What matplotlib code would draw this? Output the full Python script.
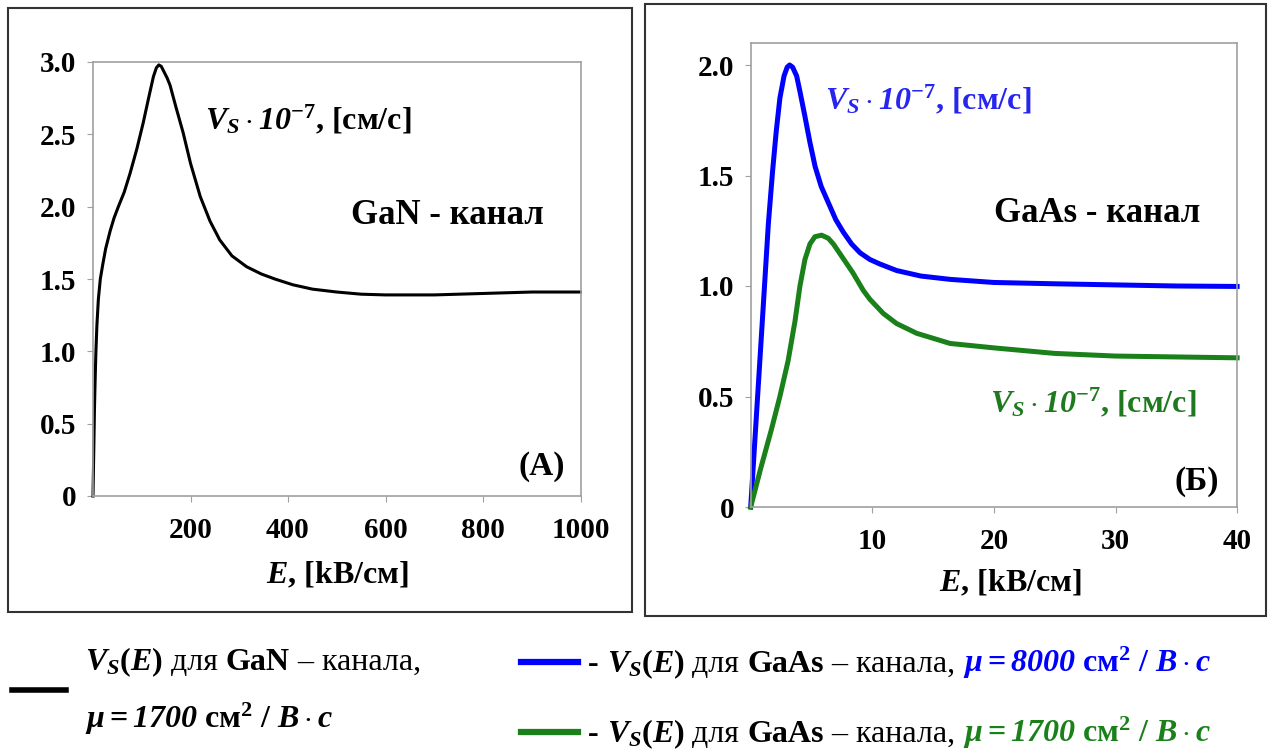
import matplotlib
matplotlib.use('Agg')
import matplotlib.pyplot as plt
from matplotlib.patches import Rectangle
from matplotlib.lines import Line2D

plt.rcParams['font.family'] = ['Liberation Serif', 'DejaVu Serif']
plt.rcParams['mathtext.fontset'] = 'custom'
plt.rcParams['mathtext.rm'] = 'Liberation Serif:bold'
plt.rcParams['mathtext.it'] = 'Liberation Serif:italic:bold'
plt.rcParams['mathtext.bf'] = 'Liberation Serif:bold'
plt.rcParams['mathtext.sf'] = 'Liberation Serif:italic:bold'

# ---------------- data ----------------
gan_E = [0, 1, 2, 3, 4, 5, 6, 8, 11, 15, 20, 26, 35, 43, 52, 64, 76, 90, 103, 114, 124, 130,
         135, 140, 146, 152, 158, 170, 185, 200, 220, 240, 260, 285, 315, 345, 373, 410, 450,
         500, 550, 600, 700, 800, 900, 1000]
gan_V = [0, 0.20, 0.40, 0.60, 0.75, 0.88, 1.00, 1.18, 1.36, 1.50, 1.60, 1.71, 1.83, 1.92, 2.00,
         2.10, 2.23, 2.40, 2.58, 2.75, 2.90, 2.96, 2.98, 2.97, 2.93, 2.89, 2.84, 2.69, 2.51, 2.30,
         2.07, 1.90, 1.77, 1.66, 1.585, 1.535, 1.50, 1.46, 1.43, 1.41, 1.395, 1.39, 1.39, 1.40,
         1.41, 1.41]

gaas8000_E = [0, 0.5, 1.0, 1.45, 1.8, 2.1, 2.4, 2.74, 3.0, 3.2, 3.45, 3.78, 4.05, 4.45, 4.87,
              5.3, 5.8, 6.36, 7.0, 7.6, 8.3, 9.0, 9.8, 10.6, 12.0, 14.0, 16.4, 20, 25, 30, 35, 40]
gaas8000_V = [0, 0.44, 0.88, 1.28, 1.52, 1.70, 1.85, 1.95, 1.99, 2.00, 1.99, 1.95, 1.88, 1.77,
              1.65, 1.54, 1.45, 1.38, 1.30, 1.245, 1.19, 1.15, 1.12, 1.10, 1.07, 1.045, 1.03,
              1.016, 1.01, 1.005, 1.0, 0.998]

gaas1700_E = [0, 0.8, 1.7, 2.4, 3.07, 3.64, 4.05, 4.46, 4.87, 5.28, 5.83, 6.38, 6.8, 7.6, 8.4,
              9.26, 9.8, 10.9, 12.0, 13.65, 16.4, 20, 25, 30, 35, 40]
gaas1700_V = [0, 0.17, 0.35, 0.50, 0.66, 0.84, 1.00, 1.12, 1.19, 1.223, 1.23, 1.216, 1.19,
              1.125, 1.06, 0.98, 0.94, 0.876, 0.83, 0.786, 0.74, 0.72, 0.695, 0.683, 0.679, 0.675]

gan_xticks = [200, 400, 600, 800, 1000]
gan_yticks = [0, 0.5, 1.0, 1.5, 2.0, 2.5, 3.0]
gaas_xticks = [10, 20, 30, 40]
gaas_yticks = [0, 0.5, 1.0, 1.5, 2.0]

W, H = 1271, 749
fig = plt.figure(figsize=(W / 100, H / 100), dpi=100)


def fx(px):
    return px / W


def fy(py):
    return 1 - py / H


# outer boxes
fig.patches.append(Rectangle((fx(8), fy(612)), (632 - 8) / W, (612 - 8) / H,
                             transform=fig.transFigure, fill=False, ec='#333333', lw=1.5))
fig.patches.append(Rectangle((fx(645), fy(616)), (1266 - 645) / W, (616 - 4) / H,
                             transform=fig.transFigure, fill=False, ec='#333333', lw=1.5))

GRAY = '#a0a0a0'


def style(ax, xt, yt):
    for s in ax.spines.values():
        s.set_color(GRAY)
        s.set_linewidth(1.2)
    ax.set_xticks(xt)
    ax.set_yticks(yt)
    ax.set_yticklabels(['0' if v == 0 else f'{v:.1f}' for v in yt])
    ax.set_xticklabels([str(v) for v in xt])
    ax.tick_params(axis='both', direction='out', length=4, color=GRAY, labelsize=21,
                   labelcolor='black')
    ax.tick_params(axis='y', pad=8)
    ax.tick_params(axis='x', pad=11)
    for lab in ax.get_xticklabels() + ax.get_yticklabels():
        lab.set_fontweight('bold')


ax1 = fig.add_axes([93 / W, fy(496), 487.5 / W, 434 / H])
ax1.plot(gan_E, gan_V, color='black', lw=2.2, clip_on=False, solid_joinstyle='round')
ax1.set_xlim(0, 1000)
ax1.set_ylim(0, 3.0)
style(ax1, gan_xticks, gan_yticks)

ax2 = fig.add_axes([750.7 / W, fy(507), 486.4 / W, 464.1 / H])
ax2.plot(gaas8000_E, gaas8000_V, color='#0000ff', lw=3.6, clip_on=False, solid_joinstyle='round')
ax2.plot(gaas1700_E, gaas1700_V, color='#1a801a', lw=3.6, clip_on=False, solid_joinstyle='round')
ax2.set_xlim(0, 40)
ax2.set_ylim(0, 2.1)
style(ax2, gaas_xticks, gaas_yticks)

# axis labels
xl = r'$E$, [kB/см]'
fig.text(fx(337), fy(575), xl, ha='center', va='center', size=23, fontweight='bold')
fig.text(fx(1010), fy(583), xl, ha='center', va='center', size=23, fontweight='bold')

# annotations
vs = r'$V_S\cdot \mathsf{10}^{-7}$, [см/с]'
fig.text(fx(205), fy(120), vs, ha='left', va='center', size=23, fontweight='bold', color='black')
fig.text(fx(447), fy(216), 'GaN - канал', ha='center', va='center', size=25, fontweight='bold')
fig.text(fx(542), fy(466), '(A)', ha='center', va='center', size=24, fontweight='bold')

fig.text(fx(825), fy(100), vs, ha='left', va='center', size=23, fontweight='bold', color='#2626f0')
fig.text(fx(1097), fy(213), 'GaAs - канал', ha='center', va='center', size=25, fontweight='bold')
fig.text(fx(990), fy(403), vs, ha='left', va='center', size=23, fontweight='bold', color='#1f7a1f')
fig.text(fx(1197), fy(482), '(Б)', ha='center', va='center', size=24, fontweight='bold')

# legend
fig.add_artist(Line2D([fx(12), fx(66)], [fy(690), fy(690)], transform=fig.transFigure,
                      color='black', lw=4))
fig.add_artist(Line2D([fx(521), fx(578)], [fy(662), fy(662)], transform=fig.transFigure,
                      color='#0000ff', lw=4.5))
fig.add_artist(Line2D([fx(521), fx(578)], [fy(732), fy(732)], transform=fig.transFigure,
                      color='#1a801a', lw=4.5))

renderer = fig.canvas.get_renderer()
LSIZE = 23


def pieces(x, y, parts):
    for s, c, w in parts:
        t = fig.text(fx(x), fy(y), s, color=c, fontweight=w, size=LSIZE, va='baseline', ha='left')
        x += t.get_window_extent(renderer).width


def mu(v):
    return r'$\mu = \mathsf{' + v + r'}$ см$^{2}$ / $В\cdot с$'


pieces(85, 670, [(r'$V_S(E)$', 'black', 'bold'), (' для ', 'black', 'normal'),
                 ('GaN', 'black', 'bold'), (' – канала,', 'black', 'normal')])
pieces(85, 728, [(mu('1700'), 'black', 'bold')])
pieces(588, 672, [('- ', 'black', 'bold'), (r'$V_S(E)$', 'black', 'bold'), (' для ', 'black', 'normal'),
                  ('GaAs', 'black', 'bold'), (' – канала, ', 'black', 'normal'),
                  (mu('8000'), '#0000ff', 'bold')])
pieces(588, 742, [('- ', 'black', 'bold'), (r'$V_S(E)$', 'black', 'bold'), (' для ', 'black', 'normal'),
                  ('GaAs', 'black', 'bold'), (' – канала, ', 'black', 'normal'),
                  (mu('1700'), '#1a801a', 'bold')])

fig.savefig('out.png', dpi=100)
